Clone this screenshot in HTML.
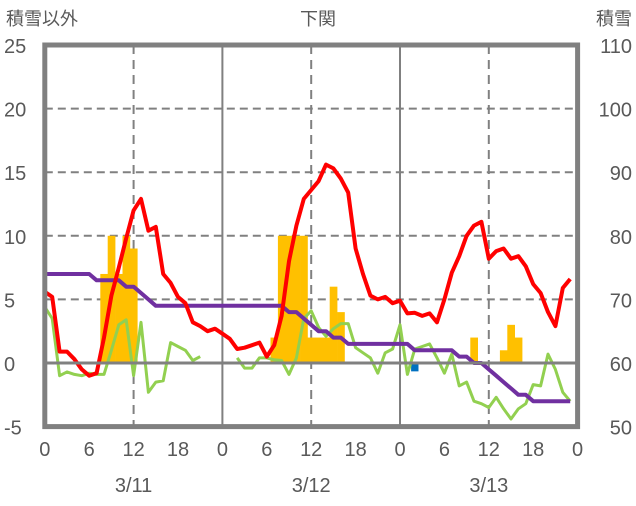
<!DOCTYPE html>
<html><head><meta charset="utf-8">
<style>
html,body{margin:0;padding:0;background:#fff;}
svg text{font-family:"Liberation Sans","Noto Sans CJK JP",sans-serif;fill:#595959;}
</style></head>
<body>
<svg id="chart" width="636" height="501" viewBox="0 0 636 501" xmlns="http://www.w3.org/2000/svg">
<g id="grid"></g>
<g id="bars"></g>
<g id="lines"></g>
<g id="axes"></g>
<text x="6" y="25" font-size="18">積雪以外</text>
<text x="318" y="25" font-size="18" text-anchor="middle">下関</text>
<text x="632" y="25" font-size="18" text-anchor="end">積雪</text>
</svg>
<script>
const leftTicks=[25,20,15,10,5,0,-5];
const rightTicks=[110,100,90,80,70,60,50];
const hourTicks=[0,6,12,18,0,6,12,18,0,6,12,18,0];
const dates=["3/11","3/12","3/13"];
const tempRed=[5.6,5.2,0.9,0.9,0.3,-0.5,-1.0,-0.8,2.0,5.3,7.5,9.8,12.0,12.9,10.4,10.7,7.0,6.3,5.2,4.7,3.2,2.9,2.5,2.7,
2.3,1.9,1.1,1.2,1.4,1.6,0.5,1.4,3.7,8.0,10.8,12.9,13.6,14.3,15.6,15.3,14.5,13.4,9.0,7.0,5.3,5.0,5.2,4.7,
4.9,3.9,3.95,3.7,3.9,3.2,5.0,7.1,8.4,10.0,10.8,11.1,8.2,8.8,9.0,8.2,8.4,7.6,6.2,5.5,4.0,2.9,5.9,6.6];
const tempGreen=[4.4,3.5,-1.0,-0.7,-0.9,-1.0,-0.8,-0.9,-0.9,1.0,3.0,3.4,-1.0,3.2,-2.3,-1.5,-1.4,1.6,1.3,1.0,0.2,0.5,null,null,
null,null,0.4,-0.4,-0.4,0.4,0.4,0.25,0.2,-0.9,0.4,3.5,4.1,2.8,2.1,2.7,3.1,3.1,1.2,0.8,0.4,-0.8,0.8,1.1,
3.0,-0.9,1.1,1.3,1.5,0.4,-0.8,0.7,-1.8,-1.5,-3.0,-3.2,-3.5,-2.7,-3.6,-4.4,-3.6,-3.2,-1.7,-1.8,0.7,-0.5,-2.3,-3.0];
const snowDepth=[74,74,74,74,74,74,74,73,73,73,73,72,72,71,70,69,69,69,69,69,69,69,69,69,
69,69,69,69,69,69,69,69,69,68,68,67,66,65,65,64,64,63,63,63,63,63,63,63,
63,63,62,62,62,62,62,62,61,61,60,60,59,58,57,56,55,55,54,54,54,54,54,54];
const snowHours=[8,9,10,11,12,31,32,33,34,35,36,37,38,39,40,58,62,63,64];
const snowValues=[7,10,7,10,9,2,10,10,10,10,2,2,2,6,4,2,1,3,2];
const blueHours=[50];
const blueValues=[-0.5];

const NS="http://www.w3.org/2000/svg";
const X0=44.8,PXH=7.4,Y25=45,PXU=12.72;
const xh=h=>X0+h*PXH;
const yl=v=>Y25+(25-v)*PXU;
const yr=v=>yl((v-60)/2);
function mk(tag,attrs,parent){const e=document.createElementNS(NS,tag);for(const k in attrs)e.setAttribute(k,attrs[k]);parent.appendChild(e);return e;}
const grid=document.getElementById('grid'),bars=document.getElementById('bars'),lines=document.getElementById('lines'),axes=document.getElementById('axes');
const XR=xh(72);
leftTicks.forEach((t,i)=>{
  const y=yl(t);
  if(t!==25&&t!==-5&&t!==0){const l=mk('line',{x1:X0,x2:XR,y1:y,y2:y,stroke:'#808080','stroke-width':2,'stroke-dasharray':'8,5'},grid);
  
  }
  const tx=mk('text',{x:4,y:y+8,'font-size':20},axes);tx.textContent=t;
  
  
  const tr=mk('text',{x:632,y:y+8,'font-size':20,'text-anchor':'end'},axes);tr.textContent=rightTicks[i];
  
  
});
[12,36,60].forEach(h=>{const l=mk('line',{x1:xh(h),x2:xh(h),y1:Y25,y2:yl(-5),stroke:'#808080','stroke-width':2,'stroke-dasharray':'9,6'},grid);
  
  });
[24,48].forEach(h=>{const l=mk('line',{x1:xh(h),x2:xh(h),y1:Y25,y2:yl(-5),stroke:'#808080','stroke-width':2},grid);
  
  });
const z=mk('line',{x1:X0,x2:XR,y1:yl(0),y2:yl(0),stroke:'#808080','stroke-width':3},axes);


snowHours.forEach((h,i)=>{const v=snowValues[i];
  const r=mk('rect',{x:xh(h-0.5),y:yl(v),width:PXH+0.3,height:yl(0)-yl(v),fill:'#FFC000'},bars);
  
  });
blueHours.forEach((h,i)=>{const v=blueValues[i];
  const r=mk('rect',{x:xh(h-0.5),y:yl(0)+1,width:PXH,height:yl(v)-yl(0)+1,fill:'#0070C0'},bars);
  
  });
function path(arr,fy){let d='',pen=false;arr.forEach((v,h)=>{if(v===null){pen=false;return;}d+=(pen?'L':'M')+xh(h).toFixed(1)+','+fy(v).toFixed(1);pen=true;});return d;}
const g=mk('path',{d:path(tempGreen,yl),fill:'none',stroke:'#92D050','stroke-width':3,'stroke-linejoin':'round'},lines);


const p=mk('path',{d:path(snowDepth,yr),fill:'none',stroke:'#7030A0','stroke-width':4,'stroke-linejoin':'round'},lines);


const r=mk('path',{d:path(tempRed,yl),fill:'none',stroke:'#FF0000','stroke-width':4,'stroke-linejoin':'round'},lines);


const f=mk('rect',{x:X0,y:Y25,width:XR-X0,height:yl(-5)-Y25,fill:'none',stroke:'#808080','stroke-width':5},axes);


hourTicks.forEach((t,i)=>{const tx=mk('text',{x:xh(i*6),y:456,'font-size':20,'text-anchor':'middle'},axes);tx.textContent=t;
  
  });
dates.forEach((d,i)=>{const tx=mk('text',{x:xh(i*24+12),y:492,'font-size':20,'text-anchor':'middle'},axes);tx.textContent=d;
  
  });
</script>
</body></html>
